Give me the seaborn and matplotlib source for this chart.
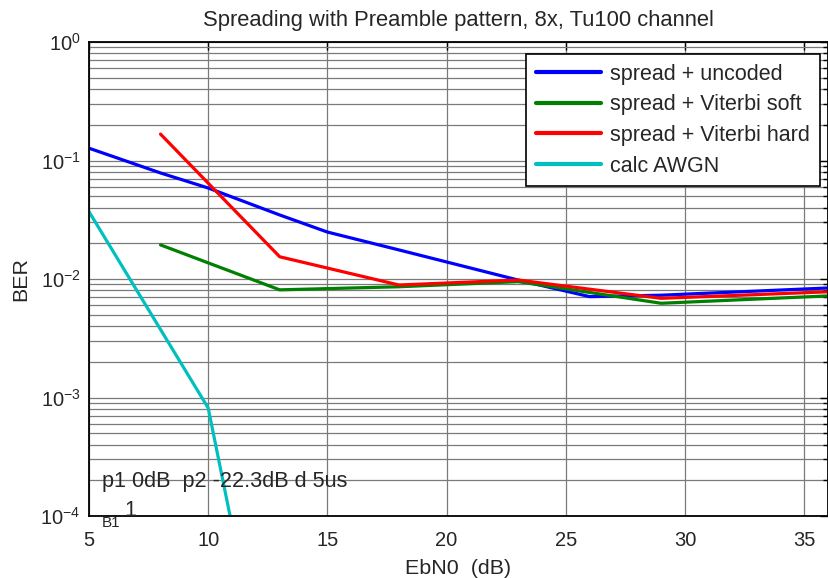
import numpy as np
import pandas as pd
import seaborn as sns
import matplotlib
matplotlib.use('Agg')
import matplotlib.pyplot as plt
from matplotlib.ticker import LogLocator, MultipleLocator, NullFormatter

# data (EbN0 in dB, BER)
ebn0_uncoded = [5, 8, 10, 13, 15, 18, 23, 26, 29, 36]
ber_uncoded = [0.127, 0.0785, 0.0586, 0.0347, 0.0249, 0.0176, 0.0098, 0.0071, 0.0073, 0.0084]

ebn0_soft = [8, 13, 18, 23, 29, 36]
ber_soft = [0.0194, 0.0081, 0.0086, 0.0095, 0.00624, 0.0072]

ebn0_hard = [8, 13, 18, 23, 29, 36]
ber_hard = [0.167, 0.0154, 0.0089, 0.0098, 0.00687, 0.0078]

ebn0_awgn = [5, 10, 11]
ber_awgn = [0.037, 8.15e-4, 8.3e-5]

labels = ['spread + uncoded', 'spread + Viterbi soft', 'spread + Viterbi hard', 'calc AWGN']
colors = ['#0000ff', '#008000', '#ff0000', '#00bfbf']


def build_frame():
    parts = []
    for lab, xs, ys in zip(labels,
                           [ebn0_uncoded, ebn0_soft, ebn0_hard, ebn0_awgn],
                           [ber_uncoded, ber_soft, ber_hard, ber_awgn]):
        parts.append(pd.DataFrame({'EbN0': xs, 'BER': ys, 'curve': lab}))
    return pd.concat(parts, ignore_index=True)


def main():
    sns.set_style('white')
    plt.rcParams['font.family'] = ['Liberation Sans', 'DejaVu Sans']
    plt.rcParams['mathtext.fontset'] = 'custom'
    plt.rcParams['mathtext.rm'] = 'Liberation Sans'
    plt.rcParams['mathtext.it'] = 'Liberation Sans:italic'
    plt.rcParams['mathtext.bf'] = 'Liberation Sans:bold'

    df = build_frame()

    fig = plt.figure(figsize=(8.29, 5.78), dpi=100)
    ax = fig.add_axes([89 / 829, 62 / 578, 739 / 829, 474 / 578])

    sns.lineplot(data=df, x='EbN0', y='BER', hue='curve', hue_order=labels,
                 palette=colors, estimator=None, sort=False, linewidth=2.3, ax=ax)

    ax.set_yscale('log')
    ax.set_xlim(5, 36)
    ax.set_ylim(1e-4, 1)
    ax.xaxis.set_major_locator(MultipleLocator(5))
    ax.yaxis.set_major_locator(LogLocator(base=10, numticks=10))
    ax.yaxis.set_minor_locator(LogLocator(base=10, subs=np.arange(2, 10), numticks=20))
    ax.yaxis.set_minor_formatter(NullFormatter())

    ax.grid(True, which='major', color='#7a7a7a', linewidth=0.9)
    ax.grid(True, which='minor', axis='y', color='#7a7a7a', linewidth=0.9)
    ax.tick_params(which='both', direction='in', top=True, right=True, labelsize=14.5, color='black')
    ax.tick_params(which='major', length=6, width=1)
    ax.tick_params(which='minor', length=3.5, width=1)
    ax.tick_params(axis='x', which='major', pad=11)
    ax.tick_params(axis='y', which='major', pad=6)
    for sp in ax.spines.values():
        sp.set_color('black')
        sp.set_linewidth(1.3)

    ax.set_title('Spreading with Preamble pattern, 8x, Tu100 channel', fontsize=15.8, pad=11.5)
    ax.set_xlabel('EbN0  (dB)', fontsize=15.4, labelpad=6)
    ax.set_ylabel('BER', fontsize=15.4, labelpad=7)

    ax.text(5.55, 1.97e-4, 'p1 0dB  p2 -22.3dB d 5us', fontsize=15.6, va='center', ha='left')
    ax.text(5.55, 8.8e-5, 'B1', fontsize=11, va='center', ha='left', clip_on=False)
    ax.text(6.5, 1.12e-4, '1', fontsize=15.6, va='center', ha='left')

    leg = ax.legend(loc='upper right', bbox_to_anchor=(0.989, 0.975), borderaxespad=0,
                    fontsize=15.5, frameon=True, fancybox=False, edgecolor='black',
                    framealpha=1, handlelength=3.0, handletextpad=0.45,
                    labelspacing=0.45, borderpad=0.45)
    leg.get_frame().set_linewidth(1.2)
    for line in leg.get_lines():
        line.set_linewidth(3)

    fig.savefig('out.png', dpi=100)


if __name__ == "__main__":
    main()
